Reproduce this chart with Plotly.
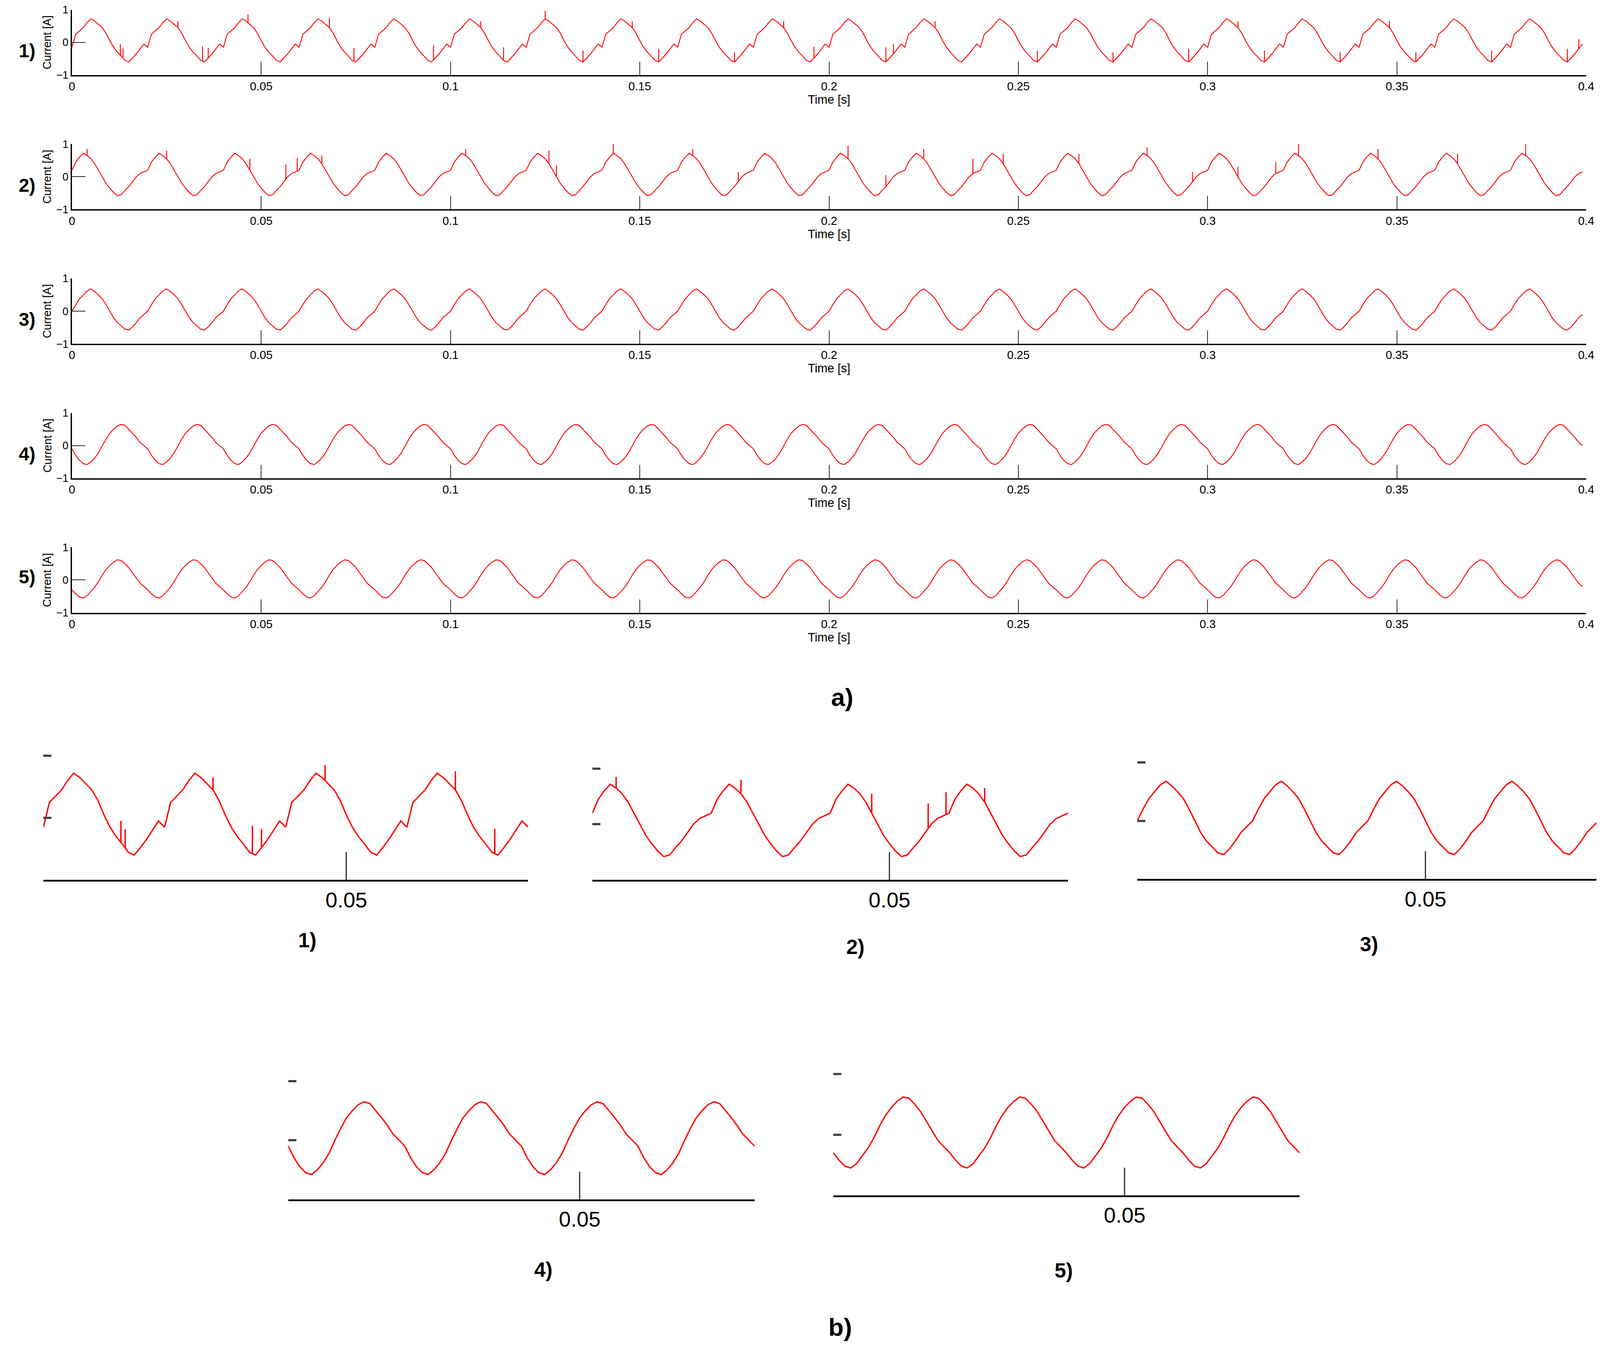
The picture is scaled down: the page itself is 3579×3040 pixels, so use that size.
import numpy as np
import plotly.graph_objects as go

W, H = 3579, 3040
DW, DH = 1568.0, 1332.0   # coordinates (display scale)

# ---- data -------------------------------------------------------------
period = 0.02
n_cycles = 20
x_ticks = [0, 0.05, 0.1, 0.15, 0.2, 0.25, 0.3, 0.35, 0.4]
x_tick_text = ["0", "0.05", "0.1", "0.15", "0.2", "0.25", "0.3", "0.35", "0.4"]
y_ticks = [-1, 0, 1]

# one measured period (1 ms samples) for each current
cycle_1 = [-0.15, 0.25, 0.35, 0.45, 0.6, 0.72, 0.65, 0.55, 0.45, 0.28, 0.05, -0.15, -0.3, -0.42, -0.55, -0.6, -0.48, -0.35, -0.2, -0.05]
cycle_2 = [0.2, 0.45, 0.6, 0.72, 0.65, 0.55, 0.4, 0.2, 0.0, -0.2, -0.35, -0.48, -0.58, -0.55, -0.42, -0.3, -0.15, 0.0, 0.1, 0.15]
cycle_3 = [0.0, 0.2, 0.38, 0.5, 0.62, 0.68, 0.6, 0.5, 0.38, 0.2, 0.0, -0.2, -0.35, -0.45, -0.55, -0.58, -0.48, -0.35, -0.2, -0.1]
cycle_4 = [-0.1, -0.3, -0.45, -0.55, -0.58, -0.5, -0.38, -0.22, 0.0, 0.2, 0.38, 0.5, 0.6, 0.65, 0.62, 0.5, 0.38, 0.25, 0.1, 0.0]
cycle_5 = [-0.3, -0.42, -0.52, -0.55, -0.48, -0.35, -0.22, -0.05, 0.15, 0.32, 0.45, 0.55, 0.62, 0.6, 0.5, 0.38, 0.22, 0.05, -0.1, -0.2]

# switching spikes (time [s], jump [A])
spikes_1 = [(0.0128, 0.35), (0.0135, 0.3), (0.028, 0.2), (0.0345, 0.45), (0.036, 0.3), (0.0465, 0.25), (0.068, 0.3), (0.0745, 0.4),
            (0.0955, 0.45), (0.108, 0.2), (0.114, 0.4), (0.125, 0.25), (0.135, 0.35), (0.148, 0.2), (0.155, 0.4), (0.175, 0.3),
            (0.188, 0.2), (0.196, 0.35), (0.215, 0.45), (0.217, 0.3), (0.228, 0.2), (0.255, 0.35), (0.275, 0.3), (0.295, 0.4),
            (0.308, 0.2), (0.315, 0.35), (0.335, 0.3), (0.348, 0.2), (0.355, 0.3), (0.375, 0.35), (0.395, 0.4), (0.398, 0.3)]
spikes_2 = [(0.004, 0.2), (0.025, 0.25), (0.047, 0.35), (0.0565, 0.45), (0.0595, 0.4), (0.066, 0.25), (0.104, 0.2),
            (0.126, 0.4), (0.128, 0.35), (0.143, 0.3), (0.164, 0.2), (0.176, 0.3), (0.205, 0.4), (0.215, 0.35), (0.225, 0.3),
            (0.238, 0.45), (0.246, 0.3), (0.266, 0.3), (0.284, 0.25), (0.296, 0.3), (0.308, 0.3), (0.318, 0.35), (0.324, 0.4),
            (0.345, 0.3), (0.366, 0.3), (0.384, 0.35)]
spikes_3, spikes_4, spikes_5 = [], [], []

cycles = [cycle_1, cycle_2, cycle_3, cycle_4, cycle_5]
spikes = [spikes_1, spikes_2, spikes_3, spikes_4, spikes_5]
labels = ["1)", "2)", "3)", "4)", "5)"]


def build_trace(cycle, spk):
    base = np.tile(np.array(cycle), n_cycles)
    t = np.arange(len(base)) * (period / len(cycle))
    ts, ys = list(t), list(base)
    for st, amp in spk:
        b = np.interp(st, t, base)
        ts += [st - 1e-5, st, st + 1e-5]
        ys += [b, b + amp, b]
    order = np.argsort(ts)
    return np.array(ts)[order], np.array(ys)[order]


def px(x):
    return x / DW


def py(y):
    return 1 - y / DH


FONT = "Liberation Sans"
fig = go.Figure()
red = "#ff0000"

# ---- a) full records ----------------------------------------------------
for i in range(5):
    t, y = build_trace(cycles[i], spikes[i])
    top = 6 + 131.75 * i
    bot = 70 + 131.75 * i
    n = i + 1
    xa, ya = ("x" if n == 1 else f"x{n}"), ("y" if n == 1 else f"y{n}")
    fig.add_trace(go.Scatter(x=t, y=y, mode="lines", line=dict(color=red, width=2),
                             xaxis=xa, yaxis=ya, showlegend=False))
    fig.layout[f"xaxis{'' if n == 1 else n}"] = dict(
        domain=[px(67), px(1551)], anchor=ya, range=[0, 0.4], tickvals=x_ticks, ticktext=x_tick_text,
        ticks="inside", ticklen=30, tickwidth=2, showline=True, linecolor="black", linewidth=3,
        showgrid=False, zeroline=False, automargin=False, tickfont=dict(family=FONT, size=26, color="black"),
        title=dict(text="Time [s]", font=dict(family=FONT, size=27, color="black"), standoff=4))
    fig.layout[f"yaxis{'' if n == 1 else n}"] = dict(
        domain=[py(bot), py(top)], anchor=xa, range=[-1, 1], tickvals=y_ticks,
        ticks="inside", ticklen=30, tickwidth=2, showline=True, linecolor="black", linewidth=3,
        showgrid=False, zeroline=False, automargin=False, tickfont=dict(family=FONT, size=24, color="black"),
        title=dict(text="Current [A]", font=dict(family=FONT, size=25, color="black"), standoff=4))
    fig.add_annotation(text=f"<b>{labels[i]}</b>", xref="paper", yref="paper", x=px(14), y=py((top + bot) / 2 - 3),
                       showarrow=False, font=dict(family=FONT, size=42, color="black"))

fig.add_annotation(text="<b>a)</b>", xref="paper", yref="paper", x=px(822), y=py(680),
                   showarrow=False, font=dict(family=FONT, size=56, color="black"))

# ---- b) zoomed records --------------------------------------------------
# (left, right, axis line y, "1" marker y, label x, label y)
zoom_boxes = [(39, 514, 862, 739, 288, 930), (577, 1043, 862, 752, 835, 937), (1111, 1563, 861, 746, 1348, 934),
              (279, 736, 1175, 1058, 519, 1253), (813, 1270, 1171, 1051, 1049, 1254)]
for i, (l, r, b, tp, lx, ly) in enumerate(zoom_boxes):
    t, y = build_trace(cycles[i], spikes[i])
    keep = t <= 0.0802
    n = 6 + i
    xa, ya = f"x{n}", f"y{n}"
    fig.add_trace(go.Scatter(x=t[keep], y=y[keep], mode="lines", line=dict(color=red, width=3),
                             xaxis=xa, yaxis=ya, showlegend=False))
    fig.layout[f"xaxis{n}"] = dict(
        domain=[px(l), px(r)], anchor=ya, range=[0, 0.08], tickvals=[0.05], ticktext=["0.05"],
        ticks="inside", ticklen=62, tickwidth=3, showline=True, linecolor="black", linewidth=4,
        showgrid=False, zeroline=False, automargin=False, tickfont=dict(family=FONT, size=48, color="black"))
    fig.layout[f"yaxis{n}"] = dict(
        domain=[py(b - 3), py(tp - 6)], anchor=xa, range=[-1, 1.07], tickvals=[0, 1], showticklabels=False,
        ticks="inside", ticklen=18, tickwidth=5, showline=False, showgrid=False, zeroline=False, automargin=False)
    fig.add_annotation(text=f"<b>{labels[i]}</b>", xref="paper", yref="paper", x=px(lx), y=py(ly),
                       showarrow=False, font=dict(family=FONT, size=46, color="black"))

fig.add_annotation(text="<b>b)</b>", xref="paper", yref="paper", x=px(820), y=py(1312),
                   showarrow=False, font=dict(family=FONT, size=56, color="black"))

fig.update_layout(width=W, height=H, margin=dict(l=0, r=0, t=0, b=0),
                  paper_bgcolor="white", plot_bgcolor="white")
fig.write_html("out.html")
